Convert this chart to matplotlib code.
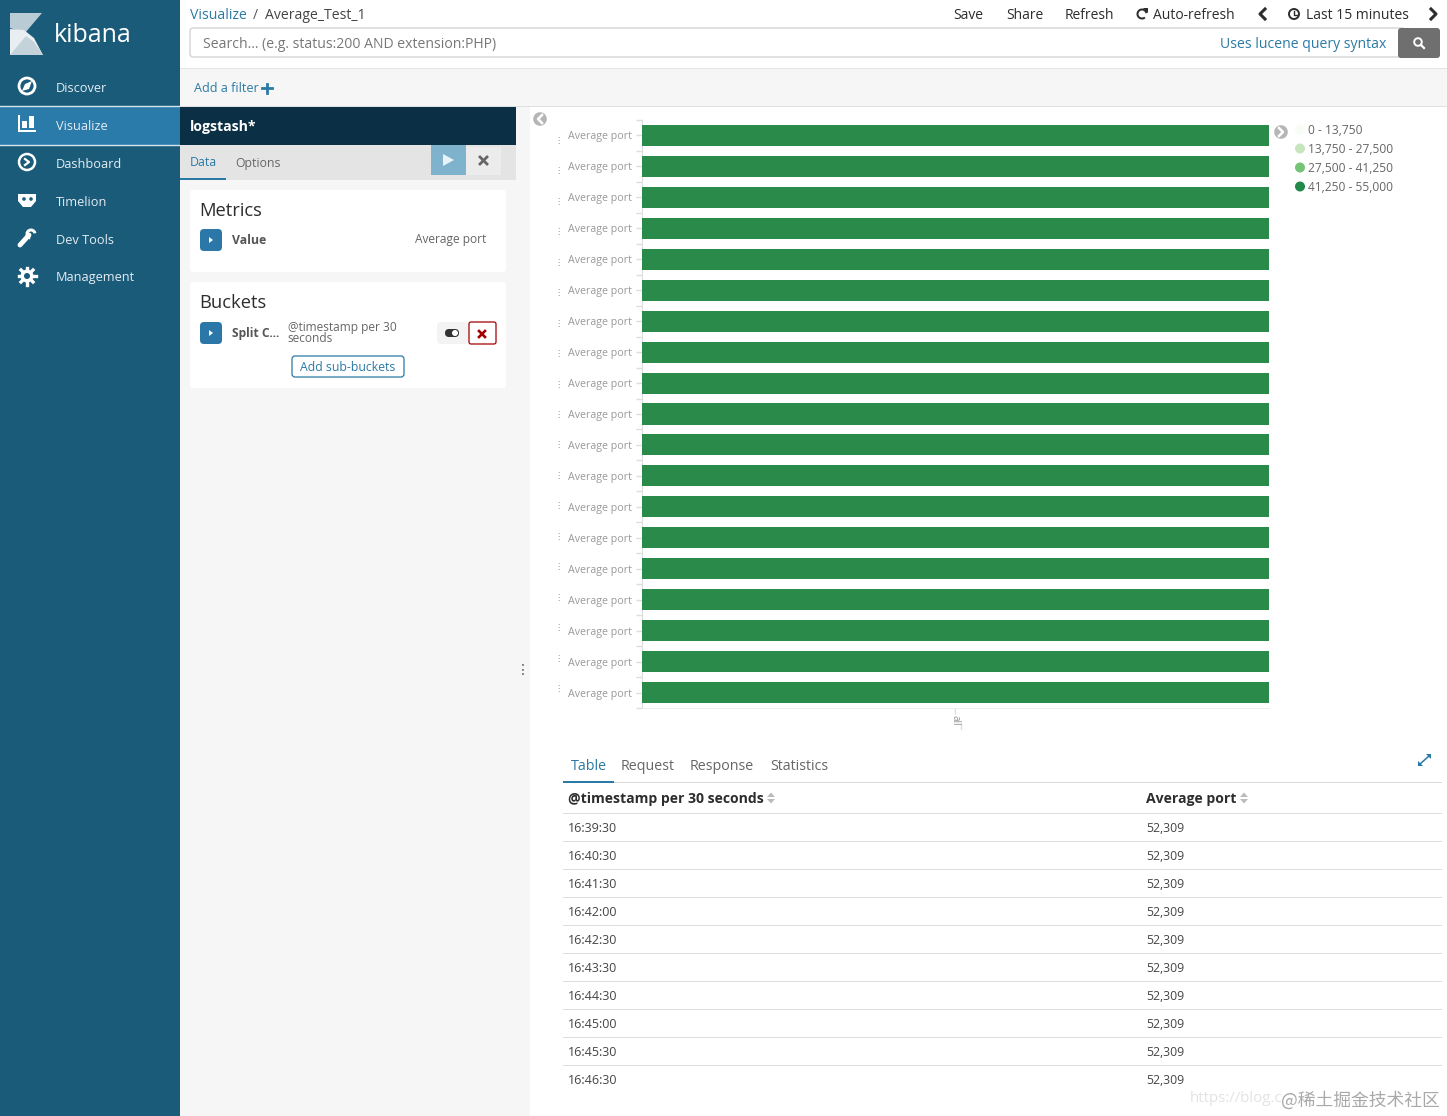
import matplotlib
matplotlib.use("Agg")
import matplotlib.pyplot as plt
from matplotlib.patches import Rectangle, Circle, Polygon, FancyBboxPatch, Wedge

plt.rcParams['font.family'] = ['Open Sans', 'DejaVu Sans']

W, H = 1447, 1116

# data
bar_labels = ['Average port'] * 19
bar_values = [52309] * 19
legend_labels = ['0 - 13,750', '13,750 - 27,500', '27,500 - 41,250', '41,250 - 55,000']
legend_colors = ['#f7fcf5', '#c7e6c0', '#73c476', '#23894a']
table_times = ['16:39:30', '16:40:30', '16:41:30', '16:42:00', '16:42:30',
               '16:43:30', '16:44:30', '16:45:00', '16:45:30', '16:46:30']
table_values = ['52,309'] * 10
nav_labels = ['Discover', 'Visualize', 'Dashboard', 'Timelion', 'Dev Tools', 'Management']
tab_labels = ['Table', 'Request', 'Response', 'Statistics']

fig = plt.figure(figsize=(W / 100, H / 100), dpi=100, facecolor='white')

# page in pixel coordinates
ui = fig.add_axes([0, 0, 1, 1])
ui.set_xlim(0, W)
ui.set_ylim(H, 0)
ui.axis('off')


def rect(x, y, w, h, color, z=1, **kw):
    ui.add_patch(Rectangle((x, y), w, h, facecolor=color, edgecolor='none', zorder=z, **kw))


def box(x, y, w, h, face, edge='none', r=3, lw=1, z=2):
    ui.add_patch(FancyBboxPatch((x + r, y + r), w - 2 * r, h - 2 * r, boxstyle='round,pad=%d' % r,
                                facecolor=face, edgecolor=edge, linewidth=lw, zorder=z))


def txt(x, y, s, px=13, color='#444444', ha='left', va='center', z=5, **kw):
    # text sits about a pixel high with va=center
    ui.text(x, y + 1, s, fontsize=px * 0.72, color=color, ha=ha, va=va, zorder=z, **kw)


# sidebar
rect(0, 0, 180, H, '#1a5b79')
rect(0, 107, 180, 38, '#2a7aaa')
ui.plot([0, 180], [106, 106], color='#d5e6ef', lw=1, zorder=2)
ui.plot([0, 180], [145, 145], color='#d5e6ef', lw=1, zorder=2)

# logo
ui.add_patch(Polygon([(10, 13), (42, 13), (25, 33), (10, 28)], facecolor='#b9cbd4', zorder=3))
ui.add_patch(Polygon([(10, 29), (24, 30), (34, 38), (43, 55), (10, 55)], facecolor='#e8eef1', zorder=3))
ui.add_patch(Polygon([(10, 55), (26, 36), (34, 42), (43, 55)], facecolor='#c4d3da', zorder=4))
txt(54, 34, 'kibana', px=25, color='white', fontweight='medium')

nav_y = [88, 126, 164, 202, 240, 278]
for label, y in zip(nav_labels, nav_y):
    txt(56, y - 1, label, px=12.8, color='#e4edf2')

# nav icons
ui.add_patch(Circle((27, 86), 8, facecolor='none', edgecolor='white', lw=2, zorder=5))
ui.add_patch(Polygon([(32, 81), (29, 89), (22, 91), (25, 84)], facecolor='white', zorder=5))
rect(18, 130, 18, 2, 'white', z=5)
rect(18, 115, 2, 16, 'white', z=5)
rect(22, 121, 5, 7, 'white', z=5)
rect(29, 116, 5, 12, 'white', z=5)
ui.add_patch(Circle((27, 162), 8, facecolor='none', edgecolor='white', lw=1.8, zorder=5))
ui.plot([25, 29, 25], [159, 162, 165], color='white', lw=1.6, zorder=5)
ui.add_patch(Polygon([(18, 194), (36, 194), (36, 201), (31, 207), (23, 207), (18, 201)], facecolor='white', zorder=5))
ui.add_patch(Circle((24, 199), 1.8, facecolor='#1a5b79', zorder=6))
ui.add_patch(Circle((31, 199), 1.8, facecolor='#1a5b79', zorder=6))
ui.plot([20, 29], [245, 235], color='white', lw=3.5, zorder=5, solid_capstyle='round')
ui.add_patch(Wedge((31, 234), 5.5, 100, 350, width=3, facecolor='white', zorder=5))
# gear: hub plus four crossing teeth
ui.add_patch(Circle((27, 276), 6.5, facecolor='white', zorder=5))
for dx, dy in [(8.5, 0), (0, 8.5), (6, 6), (6, -6)]:
    ui.plot([27 - dx, 27 + dx], [276 - dy, 276 + dy], color='white', lw=2.4, zorder=5)
ui.add_patch(Circle((27, 276), 3, facecolor='#1a5b79', zorder=6))

# top bar
rect(180, 68, W - 180, 1, '#e4e4e4')
rect(180, 69, W - 180, 37, '#f6f6f6')
rect(180, 106, W - 180, 1, '#e0e0e0')
txt(190, 14.5, 'Visualize', px=14, color='#2a7aa5')
txt(253, 14.5, '/', px=14, color='#555555')
txt(265, 14.5, 'Average_Test_1', px=14, color='#444444')
for x, s in [(953, 'Save'), (1006, 'Share'), (1065, 'Refresh'), (1153, 'Auto-refresh'), (1306, 'Last 15 minutes')]:
    txt(x, 14.5, s, px=13.9, color='#2d2d2d')
ui.add_patch(Wedge((1142, 14), 5.5, 50, 350, width=2, facecolor='#2d2d2d', zorder=5))
ui.add_patch(Polygon([(1143, 8), (1148, 8), (1148, 13)], facecolor='#2d2d2d', zorder=5))
ui.add_patch(Circle((1294, 14), 5, facecolor='none', edgecolor='#2d2d2d', lw=1.4, zorder=5))
ui.plot([1294, 1294, 1297], [11, 14.5, 14.5], color='#2d2d2d', lw=1, zorder=5)
ui.plot([1265, 1260, 1265], [9, 14, 19], color='#2d2d2d', lw=2.2, zorder=5)
ui.plot([1431, 1436, 1431], [9, 14, 19], color='#2d2d2d', lw=2.2, zorder=5)

box(190, 28, 1215, 29, 'white', edge='#d4d4d4')
txt(203, 43, 'Search... (e.g. status:200 AND extension:PHP)', px=14, color='#777777')
txt(1386, 44, 'Uses lucene query syntax', px=14, color='#2a7aa5', ha='right')
box(1398, 28, 42, 30, '#6f6f6f', z=3)
ui.add_patch(Circle((1418, 42), 3.8, facecolor='none', edgecolor='white', lw=1.4, zorder=5))
ui.plot([1421, 1424], [45, 48], color='white', lw=1.6, zorder=5)
txt(194, 87, 'Add a filter', px=12.6, color='#2a7aa5')
ui.plot([262, 272], [88, 88], color='#2a7aa5', lw=2, zorder=5)
ui.plot([267, 267], [83.5, 92.5], color='#2a7aa5', lw=2, zorder=5)

# editor panel
rect(180, 107, 350, H - 107, '#f6f6f6')
rect(180, 107, 336, 38, '#0b2f45', z=2)
rect(180, 145, 336, 35, '#e4e4e4', z=2)
txt(190, 126, 'logstash*', px=14, color='white', fontweight='bold')
txt(190, 162, 'Data', px=12.4, color='#2a7aa5')
txt(235.5, 162, 'Options', px=12.2, color='#666666')
rect(180, 178, 46, 2, '#2a7aa5', z=3)
rect(431, 145, 35, 30, '#7fb3cd', z=3)
ui.add_patch(Polygon([(443, 154), (443, 166), (454, 160)], facecolor='#e9f2f7', zorder=4))
rect(466, 147, 35, 28, '#ececec', z=3)
ui.plot([480, 487], [157, 164], color='#666666', lw=2, zorder=4)
ui.plot([487, 480], [157, 164], color='#666666', lw=2, zorder=4)

box(190, 190, 316, 82, 'white')
txt(199.5, 210, 'Metrics', px=18.4, color='#2d2d2d')
box(200, 229, 22, 22, '#2a77a8', r=4)
ui.add_patch(Polygon([(209, 237), (209, 243), (213, 240)], facecolor='white', zorder=4))
txt(232, 239, 'Value', px=12.2, color='#555555', fontweight='bold')
txt(486, 239, 'Average port', px=11.9, color='#666666', ha='right')

box(190, 282, 316, 106, 'white')
txt(199.5, 302, 'Buckets', px=18.4, color='#2d2d2d')
box(200, 322, 22, 22, '#2a77a8', r=4)
ui.add_patch(Polygon([(209, 330), (209, 336), (213, 333)], facecolor='white', zorder=4))
txt(232, 332, 'Split C...', px=12, color='#555555', fontweight='bold')
txt(287.5, 326, '@timestamp per 30', px=11.9, color='#666666')
txt(287.5, 338, 'seconds', px=11.9, color='#666666')
box(437, 322, 32, 22, '#f3f3f3', r=4)
box(445, 329, 14, 8, '#333333', r=4, z=3)
ui.add_patch(Circle((455, 333), 3, facecolor='white', zorder=4))
box(469, 322, 27, 22, 'white', edge='#a30000', r=2, lw=0.9, z=3)
ui.plot([479, 485], [331, 337], color='#a30000', lw=1.9, zorder=4)
ui.plot([485, 479], [331, 337], color='#a30000', lw=1.9, zorder=4)
box(292, 356, 112, 21, 'white', edge='#2a7aa5', r=3, lw=0.9)
txt(348, 366.5, 'Add sub-buckets', px=12.2, color='#2a7aa5', ha='center')
txt(523, 669, '\u22ee', px=14, color='#555555', ha='center', family='DejaVu Sans')

# bar chart
ax = fig.add_axes([641.5 / W, 1 - 708 / H, (1269 - 641.5) / W, (708 - 120) / H])
ax.set_facecolor('none')
positions = list(range(len(bar_values)))
ax.barh(positions, bar_values, height=0.68, color='#2a8a4a', zorder=3)
ax.set_xlim(0, 52309)
ax.set_ylim(18.5, -0.5)
ax.set_yticks(positions, bar_labels)
ax.set_yticks([p - 0.5 for p in positions] + [18.5], minor=True)
ax.tick_params(axis='y', which='major', length=4, width=1, color='#dddddd', labelsize=7.7,
               labelcolor='#999999', pad=2.5)
ax.tick_params(axis='y', which='minor', length=4, width=1, color='#dddddd')
ax.set_xticks([26154.5], ['all'])
ax.tick_params(axis='x', length=4, width=1, color='#dddddd', labelsize=7, labelcolor='#8f8f8f',
               labelrotation=270, pad=1)
for side in ['top', 'right']:
    ax.spines[side].set_visible(False)
ax.spines['left'].set_color('#dddddd')
ax.spines['bottom'].set_color('#eeeeee')

# cut-off split labels left of the chart
for p in positions:
    y = ax.transData.transform((0, p))[1]
    ui.text(558, H - y + 5 - p * 0.5, '\u22ee', fontsize=6, color='#8f8f8f', ha='center', va='center',
            zorder=5, family='DejaVu Sans')
ui.plot([961, 961], [724, 729], color='#dddddd', lw=1, zorder=5)

# collapse arrows
for cx, cy, d in [(540, 119, -1), (1281, 132, 1)]:
    ui.add_patch(Circle((cx, cy), 6.8, facecolor='#b5b5b5', zorder=5))
    ui.plot([cx - 2 * d, cx + 2 * d, cx - 2 * d], [cy - 4, cy, cy + 4], color='white', lw=1.8, zorder=6)

# legend
for i, (label, color) in enumerate(zip(legend_labels, legend_colors)):
    y = 129.5 + i * 19
    ui.add_patch(Circle((1300, y), 5, facecolor=color, zorder=5))
    txt(1308.5, y, label, px=12.05, color='#666666')

# tabs
for x, label in zip([571, 621, 690, 770], tab_labels):
    txt(x, 765, label, px=14.3, color='#2a7aa5' if label == 'Table' else '#666666')
rect(563, 782, 879, 1, '#d9d9d9')
rect(563, 781, 51, 2, '#2a7aa5', z=3)
ui.plot([1420, 1429], [764, 756], color='#2a7aa5', lw=1.1, zorder=5)
ui.add_patch(Polygon([(1418, 766), (1418, 761), (1423, 766)], facecolor='#2a7aa5', zorder=5))
ui.add_patch(Polygon([(1431, 754), (1431, 759), (1426, 754)], facecolor='#2a7aa5', zorder=5))

# table
txt(568, 798, '@timestamp per 30 seconds', px=14, color='#2d2d2d', fontweight='bold')
txt(1146, 798, 'Average port', px=14, color='#2d2d2d', fontweight='bold')
for x in [771, 1244]:
    ui.add_patch(Polygon([(x - 4, 797), (x + 4, 797), (x, 792.5)], facecolor='#bbbbbb', zorder=5))
    ui.add_patch(Polygon([(x - 4, 799), (x + 4, 799), (x, 803.5)], facecolor='#bbbbbb', zorder=5))
rect(563, 813, 879, 1, '#dddddd')
for i, (t, v) in enumerate(zip(table_times, table_values)):
    y = 827.5 + i * 28
    txt(568, y, t, px=12.5, color='#444444')
    txt(1146, y, v, px=12.3, color='#444444')
    if i < 9:
        rect(563, y + 13.5, 879, 1, '#dddddd')

# watermark
txt(1190, 1097, 'https://blog.c', px=15, color='#e3e3e3', z=6)
ui.text(1281, 1100, '@稀土掘金技术社区', fontsize=12.8, color='#a9a9a9', ha='left', va='center', zorder=7,
        family=['Noto Sans CJK SC', 'DejaVu Sans'])

fig.savefig('out.png', dpi=100)
